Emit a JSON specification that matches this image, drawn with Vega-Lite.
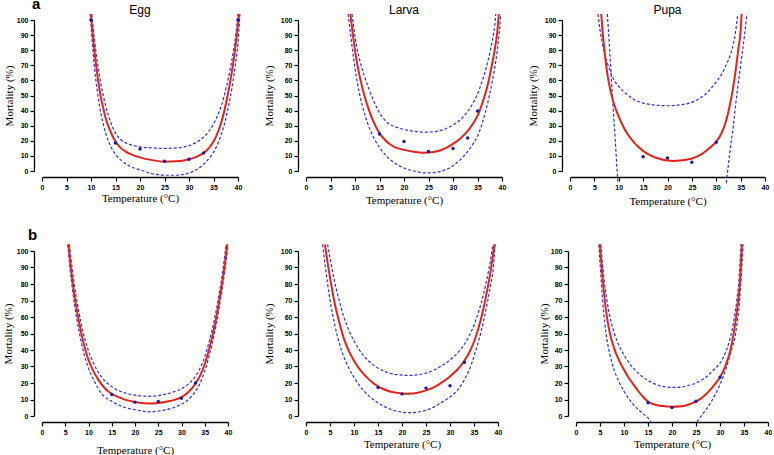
{
"$schema":"https://vega.github.io/schema/vega-lite/v6.json",
"padding":{"left":2,"top":-4,"right":0,"bottom":0},
"datasets":{"d":[
{"p":"aE","s":"fit","t":10.0,"m":104},{"p":"aE","s":"fit","t":10.25,"m":94},{"p":"aE","s":"fit","t":10.5,"m":86},{"p":"aE","s":"fit","t":10.75,"m":78},{"p":"aE","s":"fit","t":11,"m":71},{"p":"aE","s":"fit","t":11.5,"m":59},{"p":"aE","s":"fit","t":12,"m":49},{"p":"aE","s":"fit","t":12.5,"m":41.5},{"p":"aE","s":"fit","t":13,"m":35},{"p":"aE","s":"fit","t":14,"m":26},{"p":"aE","s":"fit","t":15,"m":19.5},{"p":"aE","s":"fit","t":16,"m":15.5},{"p":"aE","s":"fit","t":17,"m":13},{"p":"aE","s":"fit","t":18,"m":11.3},{"p":"aE","s":"fit","t":20,"m":9},{"p":"aE","s":"fit","t":22.5,"m":7.2},{"p":"aE","s":"fit","t":25,"m":6.2},{"p":"aE","s":"fit","t":27.5,"m":6.4},{"p":"aE","s":"fit","t":30,"m":7.8},{"p":"aE","s":"fit","t":31.5,"m":9.4},{"p":"aE","s":"fit","t":33,"m":12},{"p":"aE","s":"fit","t":34,"m":15},{"p":"aE","s":"fit","t":35,"m":19.5},{"p":"aE","s":"fit","t":36,"m":26.5},{"p":"aE","s":"fit","t":37,"m":37},{"p":"aE","s":"fit","t":37.5,"m":44},{"p":"aE","s":"fit","t":38,"m":52},{"p":"aE","s":"fit","t":38.5,"m":61},{"p":"aE","s":"fit","t":39,"m":71},{"p":"aE","s":"fit","t":39.5,"m":83},{"p":"aE","s":"fit","t":40,"m":97},{"p":"aE","s":"fit","t":40.2,"m":104},
{"p":"aE","s":"up","t":10.15,"m":104},{"p":"aE","s":"up","t":10.5,"m":93},{"p":"aE","s":"up","t":10.75,"m":86},{"p":"aE","s":"up","t":11,"m":79},{"p":"aE","s":"up","t":11.5,"m":68},{"p":"aE","s":"up","t":12,"m":58},{"p":"aE","s":"up","t":12.5,"m":50},{"p":"aE","s":"up","t":13,"m":43},{"p":"aE","s":"up","t":14,"m":32.5},{"p":"aE","s":"up","t":15,"m":25},{"p":"aE","s":"up","t":16,"m":21},{"p":"aE","s":"up","t":17,"m":18.8},{"p":"aE","s":"up","t":18,"m":17.5},{"p":"aE","s":"up","t":20,"m":16},{"p":"aE","s":"up","t":22.5,"m":15.3},{"p":"aE","s":"up","t":25,"m":15},{"p":"aE","s":"up","t":27.5,"m":15.3},{"p":"aE","s":"up","t":30,"m":16.8},{"p":"aE","s":"up","t":31.5,"m":19},{"p":"aE","s":"up","t":33,"m":22.5},{"p":"aE","s":"up","t":34,"m":26},{"p":"aE","s":"up","t":35,"m":31},{"p":"aE","s":"up","t":36,"m":38},{"p":"aE","s":"up","t":37,"m":47.5},{"p":"aE","s":"up","t":37.5,"m":54},{"p":"aE","s":"up","t":38,"m":61},{"p":"aE","s":"up","t":38.5,"m":69},{"p":"aE","s":"up","t":39,"m":78},{"p":"aE","s":"up","t":39.5,"m":89},{"p":"aE","s":"up","t":40,"m":104},
{"p":"aE","s":"lo","t":9.85,"m":104},{"p":"aE","s":"lo","t":10,"m":97},{"p":"aE","s":"lo","t":10.25,"m":86},{"p":"aE","s":"lo","t":10.5,"m":76},{"p":"aE","s":"lo","t":10.75,"m":67},{"p":"aE","s":"lo","t":11,"m":60},{"p":"aE","s":"lo","t":11.5,"m":48},{"p":"aE","s":"lo","t":12,"m":38.5},{"p":"aE","s":"lo","t":12.5,"m":31},{"p":"aE","s":"lo","t":13,"m":25},{"p":"aE","s":"lo","t":14,"m":16.5},{"p":"aE","s":"lo","t":15,"m":11},{"p":"aE","s":"lo","t":16,"m":7.5},{"p":"aE","s":"lo","t":17,"m":5},{"p":"aE","s":"lo","t":18,"m":3},{"p":"aE","s":"lo","t":20,"m":0.8},{"p":"aE","s":"lo","t":22.5,"m":-1.8},{"p":"aE","s":"lo","t":25,"m":-2.8},{"p":"aE","s":"lo","t":27.5,"m":-2.8},{"p":"aE","s":"lo","t":30,"m":-1.3},{"p":"aE","s":"lo","t":31.5,"m":0.8},{"p":"aE","s":"lo","t":33,"m":4.5},{"p":"aE","s":"lo","t":34,"m":8},{"p":"aE","s":"lo","t":35,"m":12.5},{"p":"aE","s":"lo","t":36,"m":19},{"p":"aE","s":"lo","t":37,"m":28.5},{"p":"aE","s":"lo","t":37.5,"m":34.5},{"p":"aE","s":"lo","t":38,"m":42},{"p":"aE","s":"lo","t":38.5,"m":50},{"p":"aE","s":"lo","t":39,"m":60},{"p":"aE","s":"lo","t":39.5,"m":71},{"p":"aE","s":"lo","t":40,"m":85},{"p":"aE","s":"lo","t":40.4,"m":104},
{"p":"aE","s":"pt","t":10,"m":100},{"p":"aE","s":"pt","t":15,"m":18.5},{"p":"aE","s":"pt","t":20,"m":14.5},{"p":"aE","s":"pt","t":25,"m":6.5},{"p":"aE","s":"pt","t":30,"m":7.8},{"p":"aE","s":"pt","t":33,"m":12},{"p":"aE","s":"pt","t":40,"m":100},

{"p":"aL","s":"fit","t":9.05,"m":104},{"p":"aL","s":"fit","t":9.5,"m":92},{"p":"aL","s":"fit","t":10,"m":80},{"p":"aL","s":"fit","t":10.5,"m":70},{"p":"aL","s":"fit","t":11,"m":62},{"p":"aL","s":"fit","t":12,"m":49},{"p":"aL","s":"fit","t":13,"m":39},{"p":"aL","s":"fit","t":14,"m":31},{"p":"aL","s":"fit","t":15,"m":25},{"p":"aL","s":"fit","t":16,"m":21},{"p":"aL","s":"fit","t":17,"m":18},{"p":"aL","s":"fit","t":18,"m":16},{"p":"aL","s":"fit","t":20,"m":14},{"p":"aL","s":"fit","t":22,"m":12.7},{"p":"aL","s":"fit","t":24,"m":12.1},{"p":"aL","s":"fit","t":25,"m":12.2},{"p":"aL","s":"fit","t":27,"m":13.3},{"p":"aL","s":"fit","t":28.5,"m":15.2},{"p":"aL","s":"fit","t":30,"m":18},{"p":"aL","s":"fit","t":31.5,"m":21.5},{"p":"aL","s":"fit","t":33,"m":26.5},{"p":"aL","s":"fit","t":34,"m":31},{"p":"aL","s":"fit","t":35,"m":36.5},{"p":"aL","s":"fit","t":36,"m":45},{"p":"aL","s":"fit","t":37,"m":56},{"p":"aL","s":"fit","t":37.5,"m":63},{"p":"aL","s":"fit","t":38,"m":71},{"p":"aL","s":"fit","t":38.5,"m":80},{"p":"aL","s":"fit","t":39,"m":91},{"p":"aL","s":"fit","t":39.35,"m":104},
{"p":"aL","s":"up","t":9.4,"m":104},{"p":"aL","s":"up","t":10,"m":89},{"p":"aL","s":"up","t":10.5,"m":80},{"p":"aL","s":"up","t":11,"m":73},{"p":"aL","s":"up","t":12,"m":62},{"p":"aL","s":"up","t":13,"m":53},{"p":"aL","s":"up","t":14,"m":45},{"p":"aL","s":"up","t":15,"m":38.5},{"p":"aL","s":"up","t":16,"m":34},{"p":"aL","s":"up","t":17,"m":31},{"p":"aL","s":"up","t":18,"m":29.5},{"p":"aL","s":"up","t":20,"m":27.5},{"p":"aL","s":"up","t":22,"m":26.3},{"p":"aL","s":"up","t":24,"m":25.8},{"p":"aL","s":"up","t":25,"m":25.8},{"p":"aL","s":"up","t":27,"m":26.5},{"p":"aL","s":"up","t":28.5,"m":28},{"p":"aL","s":"up","t":30,"m":30.5},{"p":"aL","s":"up","t":31.5,"m":34},{"p":"aL","s":"up","t":33,"m":39.5},{"p":"aL","s":"up","t":34,"m":44.5},{"p":"aL","s":"up","t":35,"m":51},{"p":"aL","s":"up","t":36,"m":60},{"p":"aL","s":"up","t":37,"m":71},{"p":"aL","s":"up","t":37.5,"m":78},{"p":"aL","s":"up","t":38,"m":86},{"p":"aL","s":"up","t":38.5,"m":96},{"p":"aL","s":"up","t":38.75,"m":104},
{"p":"aL","s":"lo","t":8.6,"m":104},{"p":"aL","s":"lo","t":9,"m":93},{"p":"aL","s":"lo","t":9.5,"m":80},{"p":"aL","s":"lo","t":10,"m":68},{"p":"aL","s":"lo","t":10.5,"m":58},{"p":"aL","s":"lo","t":11,"m":50},{"p":"aL","s":"lo","t":12,"m":37.5},{"p":"aL","s":"lo","t":13,"m":28},{"p":"aL","s":"lo","t":14,"m":21},{"p":"aL","s":"lo","t":15,"m":15.5},{"p":"aL","s":"lo","t":16,"m":11.5},{"p":"aL","s":"lo","t":17,"m":8},{"p":"aL","s":"lo","t":18,"m":5.5},{"p":"aL","s":"lo","t":20,"m":2},{"p":"aL","s":"lo","t":22,"m":0},{"p":"aL","s":"lo","t":24,"m":-1.2},{"p":"aL","s":"lo","t":25,"m":-1.3},{"p":"aL","s":"lo","t":27,"m":-0.6},{"p":"aL","s":"lo","t":28.5,"m":0.8},{"p":"aL","s":"lo","t":30,"m":3.5},{"p":"aL","s":"lo","t":31.5,"m":7.5},{"p":"aL","s":"lo","t":33,"m":13},{"p":"aL","s":"lo","t":34,"m":17.5},{"p":"aL","s":"lo","t":35,"m":23},{"p":"aL","s":"lo","t":36,"m":32},{"p":"aL","s":"lo","t":37,"m":44},{"p":"aL","s":"lo","t":37.5,"m":51},{"p":"aL","s":"lo","t":38,"m":59},{"p":"aL","s":"lo","t":38.5,"m":68},{"p":"aL","s":"lo","t":39,"m":79},{"p":"aL","s":"lo","t":39.5,"m":94},{"p":"aL","s":"lo","t":39.75,"m":104},
{"p":"aL","s":"pt","t":15,"m":24.5},{"p":"aL","s":"pt","t":20,"m":19.6},{"p":"aL","s":"pt","t":25,"m":12.9},{"p":"aL","s":"pt","t":30,"m":14.9},{"p":"aL","s":"pt","t":33,"m":21.8},{"p":"aL","s":"pt","t":35,"m":39.8},

{"p":"aP","s":"fit","t":6.4,"m":104},{"p":"aP","s":"fit","t":6.7,"m":92},{"p":"aP","s":"fit","t":7,"m":82},{"p":"aP","s":"fit","t":7.5,"m":68},{"p":"aP","s":"fit","t":8,"m":58},{"p":"aP","s":"fit","t":8.5,"m":50.5},{"p":"aP","s":"fit","t":9,"m":44.5},{"p":"aP","s":"fit","t":10,"m":36},{"p":"aP","s":"fit","t":11,"m":29},{"p":"aP","s":"fit","t":12,"m":23.5},{"p":"aP","s":"fit","t":13,"m":19.5},{"p":"aP","s":"fit","t":14,"m":16},{"p":"aP","s":"fit","t":15,"m":13.3},{"p":"aP","s":"fit","t":16,"m":11.2},{"p":"aP","s":"fit","t":17,"m":9.6},{"p":"aP","s":"fit","t":18,"m":8.4},{"p":"aP","s":"fit","t":19,"m":7.5},{"p":"aP","s":"fit","t":20,"m":7},{"p":"aP","s":"fit","t":21,"m":6.7},{"p":"aP","s":"fit","t":22,"m":6.8},{"p":"aP","s":"fit","t":23,"m":7.1},{"p":"aP","s":"fit","t":24,"m":7.6},{"p":"aP","s":"fit","t":25,"m":8.3},{"p":"aP","s":"fit","t":26,"m":9.5},{"p":"aP","s":"fit","t":27,"m":11.2},{"p":"aP","s":"fit","t":28,"m":13.6},{"p":"aP","s":"fit","t":29,"m":16.2},{"p":"aP","s":"fit","t":30,"m":19.5},{"p":"aP","s":"fit","t":31,"m":24.5},{"p":"aP","s":"fit","t":32,"m":33},{"p":"aP","s":"fit","t":33,"m":47},{"p":"aP","s":"fit","t":33.5,"m":56},{"p":"aP","s":"fit","t":34,"m":67},{"p":"aP","s":"fit","t":34.5,"m":80},{"p":"aP","s":"fit","t":35,"m":93},{"p":"aP","s":"fit","t":35.2,"m":104},
{"p":"aP","s":"up","t":5.76,"m":104},{"p":"aP","s":"up","t":6,"m":97},{"p":"aP","s":"up","t":6.5,"m":87},{"p":"aP","s":"up","t":7,"m":79},{"p":"aP","s":"up","t":7.5,"m":73},{"p":"aP","s":"up","t":8,"m":68.5},{"p":"aP","s":"up","t":8.5,"m":64},{"p":"aP","s":"up","t":9,"m":60.5},{"p":"aP","s":"up","t":10,"m":56},{"p":"aP","s":"up","t":11,"m":52.5},{"p":"aP","s":"up","t":12,"m":50},{"p":"aP","s":"up","t":13,"m":47.5},{"p":"aP","s":"up","t":14,"m":46},{"p":"aP","s":"up","t":15,"m":45},{"p":"aP","s":"up","t":17,"m":43.8},{"p":"aP","s":"up","t":19,"m":43.3},{"p":"aP","s":"up","t":20,"m":43.2},{"p":"aP","s":"up","t":21,"m":43.3},{"p":"aP","s":"up","t":23,"m":44},{"p":"aP","s":"up","t":24.6,"m":45},{"p":"aP","s":"up","t":26,"m":47},{"p":"aP","s":"up","t":27,"m":49},{"p":"aP","s":"up","t":28,"m":51.5},{"p":"aP","s":"up","t":29,"m":55},{"p":"aP","s":"up","t":30,"m":59},{"p":"aP","s":"up","t":31,"m":63.5},{"p":"aP","s":"up","t":32,"m":70},{"p":"aP","s":"up","t":33,"m":78},{"p":"aP","s":"up","t":33.5,"m":84},{"p":"aP","s":"up","t":34,"m":93},{"p":"aP","s":"up","t":34.4,"m":104},
{"p":"aP","s":"lo1","t":7.66,"m":104},{"p":"aP","s":"lo1","t":8.14,"m":80},{"p":"aP","s":"lo1","t":8.5,"m":60},{"p":"aP","s":"lo1","t":8.89,"m":40},{"p":"aP","s":"lo1","t":9.29,"m":20},{"p":"aP","s":"lo1","t":9.67,"m":0},{"p":"aP","s":"lo1","t":9.83,"m":-8},
{"p":"aP","s":"lo2","t":32.07,"m":-8},{"p":"aP","s":"lo2","t":32.7,"m":10},{"p":"aP","s":"lo2","t":33.5,"m":30},{"p":"aP","s":"lo2","t":34.2,"m":50},{"p":"aP","s":"lo2","t":35,"m":70},{"p":"aP","s":"lo2","t":35.8,"m":90},{"p":"aP","s":"lo2","t":36.3,"m":104},
{"p":"aP","s":"pt","t":15,"m":9.5},{"p":"aP","s":"pt","t":20,"m":8.6},{"p":"aP","s":"pt","t":25,"m":5.8},{"p":"aP","s":"pt","t":30,"m":19},

{"p":"bE","s":"fit","t":5.7,"m":104},{"p":"bE","s":"fit","t":6,"m":95},{"p":"bE","s":"fit","t":6.5,"m":83},{"p":"bE","s":"fit","t":7,"m":72.5},{"p":"bE","s":"fit","t":7.5,"m":64},{"p":"bE","s":"fit","t":8,"m":56.5},{"p":"bE","s":"fit","t":8.5,"m":49.5},{"p":"bE","s":"fit","t":9,"m":43.5},{"p":"bE","s":"fit","t":10,"m":34},{"p":"bE","s":"fit","t":11,"m":27.5},{"p":"bE","s":"fit","t":12,"m":22.5},{"p":"bE","s":"fit","t":13,"m":18.5},{"p":"bE","s":"fit","t":14,"m":15.5},{"p":"bE","s":"fit","t":15,"m":13.5},{"p":"bE","s":"fit","t":16,"m":12},{"p":"bE","s":"fit","t":17,"m":10.8},{"p":"bE","s":"fit","t":18,"m":9.8},{"p":"bE","s":"fit","t":20,"m":8.5},{"p":"bE","s":"fit","t":22,"m":7.8},{"p":"bE","s":"fit","t":23.5,"m":7.6},{"p":"bE","s":"fit","t":25,"m":7.9},{"p":"bE","s":"fit","t":27,"m":8.8},{"p":"bE","s":"fit","t":28.5,"m":9.8},{"p":"bE","s":"fit","t":30,"m":11.5},{"p":"bE","s":"fit","t":31.5,"m":14.5},{"p":"bE","s":"fit","t":33,"m":19.5},{"p":"bE","s":"fit","t":34,"m":24.5},{"p":"bE","s":"fit","t":35,"m":31.5},{"p":"bE","s":"fit","t":36,"m":41},{"p":"bE","s":"fit","t":37,"m":53},{"p":"bE","s":"fit","t":37.5,"m":60},{"p":"bE","s":"fit","t":38,"m":68},{"p":"bE","s":"fit","t":38.5,"m":76.5},{"p":"bE","s":"fit","t":39,"m":85.5},{"p":"bE","s":"fit","t":39.5,"m":96},{"p":"bE","s":"fit","t":39.8,"m":104},
{"p":"bE","s":"up","t":5.9,"m":104},{"p":"bE","s":"up","t":6.5,"m":89},{"p":"bE","s":"up","t":7,"m":78.5},{"p":"bE","s":"up","t":7.5,"m":70},{"p":"bE","s":"up","t":8,"m":62},{"p":"bE","s":"up","t":8.5,"m":55},{"p":"bE","s":"up","t":9,"m":49},{"p":"bE","s":"up","t":10,"m":39.5},{"p":"bE","s":"up","t":11,"m":32.5},{"p":"bE","s":"up","t":12,"m":27},{"p":"bE","s":"up","t":13,"m":23},{"p":"bE","s":"up","t":14,"m":20},{"p":"bE","s":"up","t":15,"m":17.8},{"p":"bE","s":"up","t":16,"m":16},{"p":"bE","s":"up","t":17,"m":14.8},{"p":"bE","s":"up","t":18,"m":13.8},{"p":"bE","s":"up","t":20,"m":12.6},{"p":"bE","s":"up","t":22,"m":12.1},{"p":"bE","s":"up","t":23.5,"m":12},{"p":"bE","s":"up","t":25,"m":12.4},{"p":"bE","s":"up","t":27,"m":13.5},{"p":"bE","s":"up","t":28.5,"m":14.8},{"p":"bE","s":"up","t":30,"m":16.5},{"p":"bE","s":"up","t":31.5,"m":19.5},{"p":"bE","s":"up","t":33,"m":24},{"p":"bE","s":"up","t":34,"m":29},{"p":"bE","s":"up","t":35,"m":36},{"p":"bE","s":"up","t":36,"m":45.5},{"p":"bE","s":"up","t":37,"m":57.5},{"p":"bE","s":"up","t":37.5,"m":64.5},{"p":"bE","s":"up","t":38,"m":72.5},{"p":"bE","s":"up","t":38.5,"m":81},{"p":"bE","s":"up","t":39,"m":90.5},{"p":"bE","s":"up","t":39.6,"m":104},
{"p":"bE","s":"lo","t":5.55,"m":104},{"p":"bE","s":"lo","t":6,"m":90},{"p":"bE","s":"lo","t":6.5,"m":78},{"p":"bE","s":"lo","t":7,"m":67.5},{"p":"bE","s":"lo","t":7.5,"m":58.5},{"p":"bE","s":"lo","t":8,"m":51},{"p":"bE","s":"lo","t":8.5,"m":44},{"p":"bE","s":"lo","t":9,"m":38},{"p":"bE","s":"lo","t":10,"m":29},{"p":"bE","s":"lo","t":11,"m":22.5},{"p":"bE","s":"lo","t":12,"m":17},{"p":"bE","s":"lo","t":13,"m":13},{"p":"bE","s":"lo","t":14,"m":10.5},{"p":"bE","s":"lo","t":15,"m":9},{"p":"bE","s":"lo","t":16,"m":7.3},{"p":"bE","s":"lo","t":17,"m":6},{"p":"bE","s":"lo","t":18,"m":5},{"p":"bE","s":"lo","t":20,"m":3.8},{"p":"bE","s":"lo","t":22,"m":2.8},{"p":"bE","s":"lo","t":23.5,"m":2.5},{"p":"bE","s":"lo","t":25,"m":3},{"p":"bE","s":"lo","t":27,"m":4},{"p":"bE","s":"lo","t":28.5,"m":5.3},{"p":"bE","s":"lo","t":30,"m":7.2},{"p":"bE","s":"lo","t":31.5,"m":10},{"p":"bE","s":"lo","t":33,"m":15},{"p":"bE","s":"lo","t":34,"m":20},{"p":"bE","s":"lo","t":35,"m":27.5},{"p":"bE","s":"lo","t":36,"m":37},{"p":"bE","s":"lo","t":37,"m":49},{"p":"bE","s":"lo","t":37.5,"m":56},{"p":"bE","s":"lo","t":38,"m":64},{"p":"bE","s":"lo","t":38.5,"m":72.5},{"p":"bE","s":"lo","t":39,"m":82},{"p":"bE","s":"lo","t":39.5,"m":92},{"p":"bE","s":"lo","t":40,"m":104},
{"p":"bE","s":"pt","t":15,"m":13},{"p":"bE","s":"pt","t":20,"m":8.4},{"p":"bE","s":"pt","t":25,"m":8.8},{"p":"bE","s":"pt","t":30,"m":10.8},{"p":"bE","s":"pt","t":33,"m":20},

{"p":"bL","s":"fit","t":3.94,"m":104},{"p":"bL","s":"fit","t":4.5,"m":93},{"p":"bL","s":"fit","t":5,"m":84},{"p":"bL","s":"fit","t":5.5,"m":75.5},{"p":"bL","s":"fit","t":6,"m":68},{"p":"bL","s":"fit","t":7,"m":56},{"p":"bL","s":"fit","t":8,"m":46},{"p":"bL","s":"fit","t":9,"m":39},{"p":"bL","s":"fit","t":10,"m":33.5},{"p":"bL","s":"fit","t":11,"m":29},{"p":"bL","s":"fit","t":12,"m":25.5},{"p":"bL","s":"fit","t":13,"m":22.5},{"p":"bL","s":"fit","t":14,"m":20},{"p":"bL","s":"fit","t":15,"m":18},{"p":"bL","s":"fit","t":16,"m":16.5},{"p":"bL","s":"fit","t":17,"m":15.3},{"p":"bL","s":"fit","t":18,"m":14.5},{"p":"bL","s":"fit","t":20,"m":13.7},{"p":"bL","s":"fit","t":21,"m":13.5},{"p":"bL","s":"fit","t":22,"m":13.6},{"p":"bL","s":"fit","t":23,"m":14},{"p":"bL","s":"fit","t":25,"m":15.5},{"p":"bL","s":"fit","t":27,"m":18},{"p":"bL","s":"fit","t":28,"m":19.8},{"p":"bL","s":"fit","t":30,"m":24},{"p":"bL","s":"fit","t":31.5,"m":28},{"p":"bL","s":"fit","t":33,"m":33.5},{"p":"bL","s":"fit","t":34,"m":38.5},{"p":"bL","s":"fit","t":35,"m":45},{"p":"bL","s":"fit","t":36,"m":54},{"p":"bL","s":"fit","t":37,"m":65.5},{"p":"bL","s":"fit","t":37.5,"m":72.5},{"p":"bL","s":"fit","t":38,"m":80},{"p":"bL","s":"fit","t":38.5,"m":88.5},{"p":"bL","s":"fit","t":39,"m":98.5},{"p":"bL","s":"fit","t":39.25,"m":104},
{"p":"bL","s":"up","t":4.5,"m":104},{"p":"bL","s":"up","t":5,"m":96},{"p":"bL","s":"up","t":5.5,"m":88},{"p":"bL","s":"up","t":6,"m":81},{"p":"bL","s":"up","t":7,"m":69},{"p":"bL","s":"up","t":8,"m":59},{"p":"bL","s":"up","t":9,"m":51.5},{"p":"bL","s":"up","t":10,"m":45.5},{"p":"bL","s":"up","t":11,"m":40.5},{"p":"bL","s":"up","t":12,"m":36.5},{"p":"bL","s":"up","t":13,"m":33.5},{"p":"bL","s":"up","t":14,"m":31},{"p":"bL","s":"up","t":15,"m":29},{"p":"bL","s":"up","t":16,"m":27.5},{"p":"bL","s":"up","t":17,"m":26.3},{"p":"bL","s":"up","t":18,"m":25.5},{"p":"bL","s":"up","t":20,"m":24.8},{"p":"bL","s":"up","t":21,"m":24.6},{"p":"bL","s":"up","t":22,"m":24.6},{"p":"bL","s":"up","t":23,"m":24.9},{"p":"bL","s":"up","t":25,"m":26},{"p":"bL","s":"up","t":27,"m":28.3},{"p":"bL","s":"up","t":28,"m":30},{"p":"bL","s":"up","t":30,"m":34},{"p":"bL","s":"up","t":31.5,"m":38},{"p":"bL","s":"up","t":33,"m":43.5},{"p":"bL","s":"up","t":34,"m":48.5},{"p":"bL","s":"up","t":35,"m":55},{"p":"bL","s":"up","t":36,"m":63.5},{"p":"bL","s":"up","t":37,"m":74},{"p":"bL","s":"up","t":37.5,"m":80.5},{"p":"bL","s":"up","t":38,"m":87.5},{"p":"bL","s":"up","t":38.5,"m":95.5},{"p":"bL","s":"up","t":38.9,"m":104},
{"p":"bL","s":"lo","t":3.46,"m":104},{"p":"bL","s":"lo","t":4,"m":91},{"p":"bL","s":"lo","t":4.5,"m":80},{"p":"bL","s":"lo","t":5,"m":70.5},{"p":"bL","s":"lo","t":5.5,"m":62},{"p":"bL","s":"lo","t":6,"m":55},{"p":"bL","s":"lo","t":7,"m":43.5},{"p":"bL","s":"lo","t":8,"m":35},{"p":"bL","s":"lo","t":9,"m":28.5},{"p":"bL","s":"lo","t":10,"m":23.5},{"p":"bL","s":"lo","t":11,"m":19},{"p":"bL","s":"lo","t":12,"m":15.5},{"p":"bL","s":"lo","t":13,"m":12.5},{"p":"bL","s":"lo","t":14,"m":10},{"p":"bL","s":"lo","t":15,"m":8},{"p":"bL","s":"lo","t":16,"m":6.3},{"p":"bL","s":"lo","t":17,"m":4.8},{"p":"bL","s":"lo","t":18,"m":3.7},{"p":"bL","s":"lo","t":20,"m":2.3},{"p":"bL","s":"lo","t":21,"m":2},{"p":"bL","s":"lo","t":22,"m":2},{"p":"bL","s":"lo","t":23,"m":2.3},{"p":"bL","s":"lo","t":25,"m":3.5},{"p":"bL","s":"lo","t":27,"m":6},{"p":"bL","s":"lo","t":28,"m":7.8},{"p":"bL","s":"lo","t":30,"m":11.5},{"p":"bL","s":"lo","t":31.5,"m":15.5},{"p":"bL","s":"lo","t":33,"m":22},{"p":"bL","s":"lo","t":34,"m":28},{"p":"bL","s":"lo","t":35,"m":36},{"p":"bL","s":"lo","t":36,"m":46},{"p":"bL","s":"lo","t":37,"m":57.5},{"p":"bL","s":"lo","t":37.5,"m":64.5},{"p":"bL","s":"lo","t":38,"m":72},{"p":"bL","s":"lo","t":38.5,"m":80},{"p":"bL","s":"lo","t":39,"m":89},{"p":"bL","s":"lo","t":39.4,"m":104},
{"p":"bL","s":"pt","t":15,"m":17.3},{"p":"bL","s":"pt","t":20,"m":13.4},{"p":"bL","s":"pt","t":25,"m":16.9},{"p":"bL","s":"pt","t":30,"m":18.3},{"p":"bL","s":"pt","t":33,"m":32.6},

{"p":"bP","s":"fit","t":4.97,"m":104},{"p":"bP","s":"fit","t":5.25,"m":94},{"p":"bP","s":"fit","t":5.5,"m":85},{"p":"bP","s":"fit","t":6,"m":70},{"p":"bP","s":"fit","t":6.5,"m":59},{"p":"bP","s":"fit","t":7,"m":51},{"p":"bP","s":"fit","t":8,"m":40.5},{"p":"bP","s":"fit","t":9,"m":33.5},{"p":"bP","s":"fit","t":10,"m":28},{"p":"bP","s":"fit","t":11,"m":23},{"p":"bP","s":"fit","t":12,"m":19},{"p":"bP","s":"fit","t":13,"m":15},{"p":"bP","s":"fit","t":14,"m":11.5},{"p":"bP","s":"fit","t":15,"m":8.8},{"p":"bP","s":"fit","t":16,"m":7.3},{"p":"bP","s":"fit","t":17,"m":6.5},{"p":"bP","s":"fit","t":18,"m":6},{"p":"bP","s":"fit","t":20,"m":5.6},{"p":"bP","s":"fit","t":22,"m":5.9},{"p":"bP","s":"fit","t":23,"m":6.5},{"p":"bP","s":"fit","t":25,"m":8.8},{"p":"bP","s":"fit","t":26,"m":10.5},{"p":"bP","s":"fit","t":27,"m":13},{"p":"bP","s":"fit","t":28,"m":16},{"p":"bP","s":"fit","t":29,"m":19.5},{"p":"bP","s":"fit","t":30,"m":23.5},{"p":"bP","s":"fit","t":31,"m":29.5},{"p":"bP","s":"fit","t":32,"m":38},{"p":"bP","s":"fit","t":32.5,"m":44.5},{"p":"bP","s":"fit","t":33,"m":53},{"p":"bP","s":"fit","t":33.5,"m":63},{"p":"bP","s":"fit","t":34,"m":76},{"p":"bP","s":"fit","t":34.3,"m":88},{"p":"bP","s":"fit","t":34.56,"m":104},
{"p":"bP","s":"up","t":5.17,"m":104},{"p":"bP","s":"up","t":5.5,"m":93},{"p":"bP","s":"up","t":6,"m":79},{"p":"bP","s":"up","t":6.5,"m":69},{"p":"bP","s":"up","t":7,"m":61},{"p":"bP","s":"up","t":8,"m":50},{"p":"bP","s":"up","t":9,"m":42.5},{"p":"bP","s":"up","t":10,"m":37},{"p":"bP","s":"up","t":11,"m":32.5},{"p":"bP","s":"up","t":12,"m":28.8},{"p":"bP","s":"up","t":13,"m":25.8},{"p":"bP","s":"up","t":14,"m":23.5},{"p":"bP","s":"up","t":15,"m":21.5},{"p":"bP","s":"up","t":16,"m":20},{"p":"bP","s":"up","t":17,"m":18.8},{"p":"bP","s":"up","t":18,"m":18},{"p":"bP","s":"up","t":20,"m":17.3},{"p":"bP","s":"up","t":22,"m":17.6},{"p":"bP","s":"up","t":23,"m":18.2},{"p":"bP","s":"up","t":25,"m":20},{"p":"bP","s":"up","t":26,"m":21.5},{"p":"bP","s":"up","t":27,"m":23.3},{"p":"bP","s":"up","t":28,"m":26},{"p":"bP","s":"up","t":29,"m":28.8},{"p":"bP","s":"up","t":30,"m":32},{"p":"bP","s":"up","t":31,"m":37.5},{"p":"bP","s":"up","t":32,"m":46},{"p":"bP","s":"up","t":32.5,"m":52},{"p":"bP","s":"up","t":33,"m":60},{"p":"bP","s":"up","t":33.5,"m":70},{"p":"bP","s":"up","t":34,"m":84},{"p":"bP","s":"up","t":34.35,"m":104},
{"p":"bP","s":"lo1","t":4.76,"m":104},{"p":"bP","s":"lo1","t":5,"m":93},{"p":"bP","s":"lo1","t":5.5,"m":72},{"p":"bP","s":"lo1","t":6,"m":56},{"p":"bP","s":"lo1","t":6.5,"m":45.5},{"p":"bP","s":"lo1","t":7,"m":38},{"p":"bP","s":"lo1","t":8,"m":27.5},{"p":"bP","s":"lo1","t":9,"m":20.5},{"p":"bP","s":"lo1","t":10,"m":15},{"p":"bP","s":"lo1","t":11,"m":10.5},{"p":"bP","s":"lo1","t":12,"m":6.8},{"p":"bP","s":"lo1","t":13,"m":3.8},{"p":"bP","s":"lo1","t":14,"m":1.3},{"p":"bP","s":"lo1","t":15,"m":-1.2},{"p":"bP","s":"lo1","t":15.6,"m":-3.5},
{"p":"bP","s":"lo2","t":25.2,"m":-3.5},{"p":"bP","s":"lo2","t":26,"m":-0.4},{"p":"bP","s":"lo2","t":27,"m":3.5},{"p":"bP","s":"lo2","t":28,"m":7.8},{"p":"bP","s":"lo2","t":29,"m":13},{"p":"bP","s":"lo2","t":30,"m":19},{"p":"bP","s":"lo2","t":31,"m":26.5},{"p":"bP","s":"lo2","t":32,"m":36},{"p":"bP","s":"lo2","t":32.5,"m":41},{"p":"bP","s":"lo2","t":33,"m":46},{"p":"bP","s":"lo2","t":33.5,"m":55},{"p":"bP","s":"lo2","t":34,"m":67},{"p":"bP","s":"lo2","t":34.5,"m":88},{"p":"bP","s":"lo2","t":34.83,"m":104},
{"p":"bP","s":"pt","t":15,"m":8},{"p":"bP","s":"pt","t":20,"m":5.1},{"p":"bP","s":"pt","t":25,"m":9},{"p":"bP","s":"pt","t":30,"m":23.5}
]},
"spacing":22,
"vconcat":[
{"bounds":"flush","spacing":68,
 "title":{"text":"a","anchor":"start","frame":"group","font":"Liberation Sans","fontSize":15,"fontWeight":"bold","dx":-10,"offset":-8},
 "hconcat":[
 {"width":196,"height":151,"title":{"text":"Egg","offset":-7},"data":{"name":"d"},"transform":[{"filter":"datum.p==='aE'"}],
  "encoding":{"x":{"field":"t","type":"quantitative","scale":{"domain":[0,40],"nice":false,"zero":false},"axis":{"values":[0,5,10,15,20,25,30,35,40],"offset":6,"title":"Temperature (°C)","titlePadding":2}},
   "y":{"field":"m","type":"quantitative","scale":{"domain":[0,100],"nice":false},"axis":{"values":[0,10,20,30,40,50,60,70,80,90,100],"offset":8,"title":"Mortality (%)","titlePadding":2}}},
  "layer":[
   {"transform":[{"filter":"datum.s!=='fit' && datum.s!=='pt'"}],"mark":{"type":"line","color":"#3030d8","strokeWidth":1.2,"strokeDash":[3,2],"interpolate":"monotone"},"encoding":{"detail":{"field":"s"}}},
   {"transform":[{"filter":"datum.s==='fit'"}],"mark":{"type":"line","color":"#e5221c","strokeWidth":2,"interpolate":"monotone"}},
   {"transform":[{"filter":"datum.s==='pt'"}],"mark":{"type":"circle","color":"#1b1b9e","size":12,"opacity":1}}]},
 {"width":196,"height":151,"title":{"text":"Larva","offset":-7},"data":{"name":"d"},"transform":[{"filter":"datum.p==='aL'"}],
  "encoding":{"x":{"field":"t","type":"quantitative","scale":{"domain":[0,40],"nice":false,"zero":false},"axis":{"values":[0,5,10,15,20,25,30,35,40],"offset":6,"title":"Temperature (°C)","titlePadding":4}},
   "y":{"field":"m","type":"quantitative","scale":{"domain":[0,100],"nice":false},"axis":{"values":[0,10,20,30,40,50,60,70,80,90,100],"offset":8,"title":"Mortality (%)","titlePadding":6}}},
  "layer":[
   {"transform":[{"filter":"datum.s!=='fit' && datum.s!=='pt'"}],"mark":{"type":"line","color":"#3030d8","strokeWidth":1.2,"strokeDash":[3,2],"interpolate":"monotone"},"encoding":{"detail":{"field":"s"}}},
   {"transform":[{"filter":"datum.s==='fit'"}],"mark":{"type":"line","color":"#e5221c","strokeWidth":2,"interpolate":"monotone"}},
   {"transform":[{"filter":"datum.s==='pt'"}],"mark":{"type":"circle","color":"#1b1b9e","size":12,"opacity":1}}]},
 {"width":195,"height":151,"title":{"text":"Pupa","offset":-7},"data":{"name":"d"},"transform":[{"filter":"datum.p==='aP'"}],
  "encoding":{"x":{"field":"t","type":"quantitative","scale":{"domain":[0,40],"nice":false,"zero":false},"axis":{"values":[0,5,10,15,20,25,30,35,40],"offset":6,"title":"Temperature (°C)","titlePadding":5}},
   "y":{"field":"m","type":"quantitative","scale":{"domain":[0,100],"nice":false},"axis":{"values":[0,10,20,30,40,50,60,70,80,90,100],"offset":8,"title":"Mortality (%)","titlePadding":6}}},
  "layer":[
   {"transform":[{"filter":"datum.s!=='fit' && datum.s!=='pt'"}],"mark":{"type":"line","color":"#3030d8","strokeWidth":1.2,"strokeDash":[3,2],"interpolate":"monotone"},"encoding":{"detail":{"field":"s"}}},
   {"transform":[{"filter":"datum.s==='fit'"}],"mark":{"type":"line","color":"#e5221c","strokeWidth":2,"interpolate":"monotone"}},
   {"transform":[{"filter":"datum.s==='pt'"}],"mark":{"type":"circle","color":"#1b1b9e","size":12,"opacity":1}}]}
 ]},
{"bounds":"flush","spacing":78,
 "title":{"text":"b","anchor":"start","frame":"group","font":"Liberation Sans","fontSize":15,"fontWeight":"bold","dx":-14,"offset":-3},
 "hconcat":[
 {"width":186,"height":165,"data":{"name":"d"},"transform":[{"filter":"datum.p==='bE'"}],
  "encoding":{"x":{"field":"t","type":"quantitative","scale":{"domain":[0,40],"nice":false,"zero":false},"axis":{"values":[0,5,10,15,20,25,30,35,40],"offset":6,"title":"Temperature (°C)","titlePadding":9}},
   "y":{"field":"m","type":"quantitative","scale":{"domain":[0,100],"nice":false},"axis":{"values":[0,10,20,30,40,50,60,70,80,90,100],"offset":8,"title":"Mortality (%)","titlePadding":3}}},
  "layer":[
   {"transform":[{"filter":"datum.s!=='fit' && datum.s!=='pt'"}],"mark":{"type":"line","color":"#3030d8","strokeWidth":1.2,"strokeDash":[3,2],"interpolate":"monotone"},"encoding":{"detail":{"field":"s"}}},
   {"transform":[{"filter":"datum.s==='fit'"}],"mark":{"type":"line","color":"#e5221c","strokeWidth":2,"interpolate":"monotone"}},
   {"transform":[{"filter":"datum.s==='pt'"}],"mark":{"type":"circle","color":"#1b1b9e","size":12,"opacity":1}}]},
 {"width":192,"height":165,"data":{"name":"d"},"transform":[{"filter":"datum.p==='bL'"}],
  "encoding":{"x":{"field":"t","type":"quantitative","scale":{"domain":[0,40],"nice":false,"zero":false},"axis":{"values":[0,5,10,15,20,25,30,35,40],"offset":6,"title":"Temperature (°C)","titlePadding":3}},
   "y":{"field":"m","type":"quantitative","scale":{"domain":[0,100],"nice":false},"axis":{"values":[0,10,20,30,40,50,60,70,80,90,100],"offset":8,"title":"Mortality (%)","titlePadding":6}}},
  "layer":[
   {"transform":[{"filter":"datum.s!=='fit' && datum.s!=='pt'"}],"mark":{"type":"line","color":"#3030d8","strokeWidth":1.2,"strokeDash":[3,2],"interpolate":"monotone"},"encoding":{"detail":{"field":"s"}}},
   {"transform":[{"filter":"datum.s==='fit'"}],"mark":{"type":"line","color":"#e5221c","strokeWidth":2,"interpolate":"monotone"}},
   {"transform":[{"filter":"datum.s==='pt'"}],"mark":{"type":"circle","color":"#1b1b9e","size":12,"opacity":1}}]},
 {"width":192,"height":165,"data":{"name":"d"},"transform":[{"filter":"datum.p==='bP'"}],
  "encoding":{"x":{"field":"t","type":"quantitative","scale":{"domain":[0,40],"nice":false,"zero":false},"axis":{"values":[0,5,10,15,20,25,30,35,40],"offset":6,"title":"Temperature (°C)","titlePadding":3}},
   "y":{"field":"m","type":"quantitative","scale":{"domain":[0,100],"nice":false},"axis":{"values":[0,10,20,30,40,50,60,70,80,90,100],"offset":8,"title":"Mortality (%)","titlePadding":1}}},
  "layer":[
   {"transform":[{"filter":"datum.s!=='fit' && datum.s!=='pt'"}],"mark":{"type":"line","color":"#3030d8","strokeWidth":1.2,"strokeDash":[3,2],"interpolate":"monotone"},"encoding":{"detail":{"field":"s"}}},
   {"transform":[{"filter":"datum.s==='fit'"}],"mark":{"type":"line","color":"#e5221c","strokeWidth":2,"interpolate":"monotone"}},
   {"transform":[{"filter":"datum.s==='pt'"}],"mark":{"type":"circle","color":"#1b1b9e","size":12,"opacity":1}}]}
 ]}
],
"config":{
 "view":{"stroke":null},
 "axis":{"grid":false,"domainColor":"#000","domainWidth":1.3,"tickColor":"#000","tickWidth":1.2,"tickSize":4,"labelFont":"Liberation Sans","labelFontSize":7,"labelFontWeight":"bold","labelColor":"#000","labelPadding":2,"labelFlush":false,"labelOverlap":false,"titleFont":"Liberation Serif","titleFontSize":11,"titleFontWeight":"normal","titleColor":"#000"},
 "title":{"font":"Liberation Sans","fontSize":12,"fontWeight":"normal","color":"#000"}
}
}
